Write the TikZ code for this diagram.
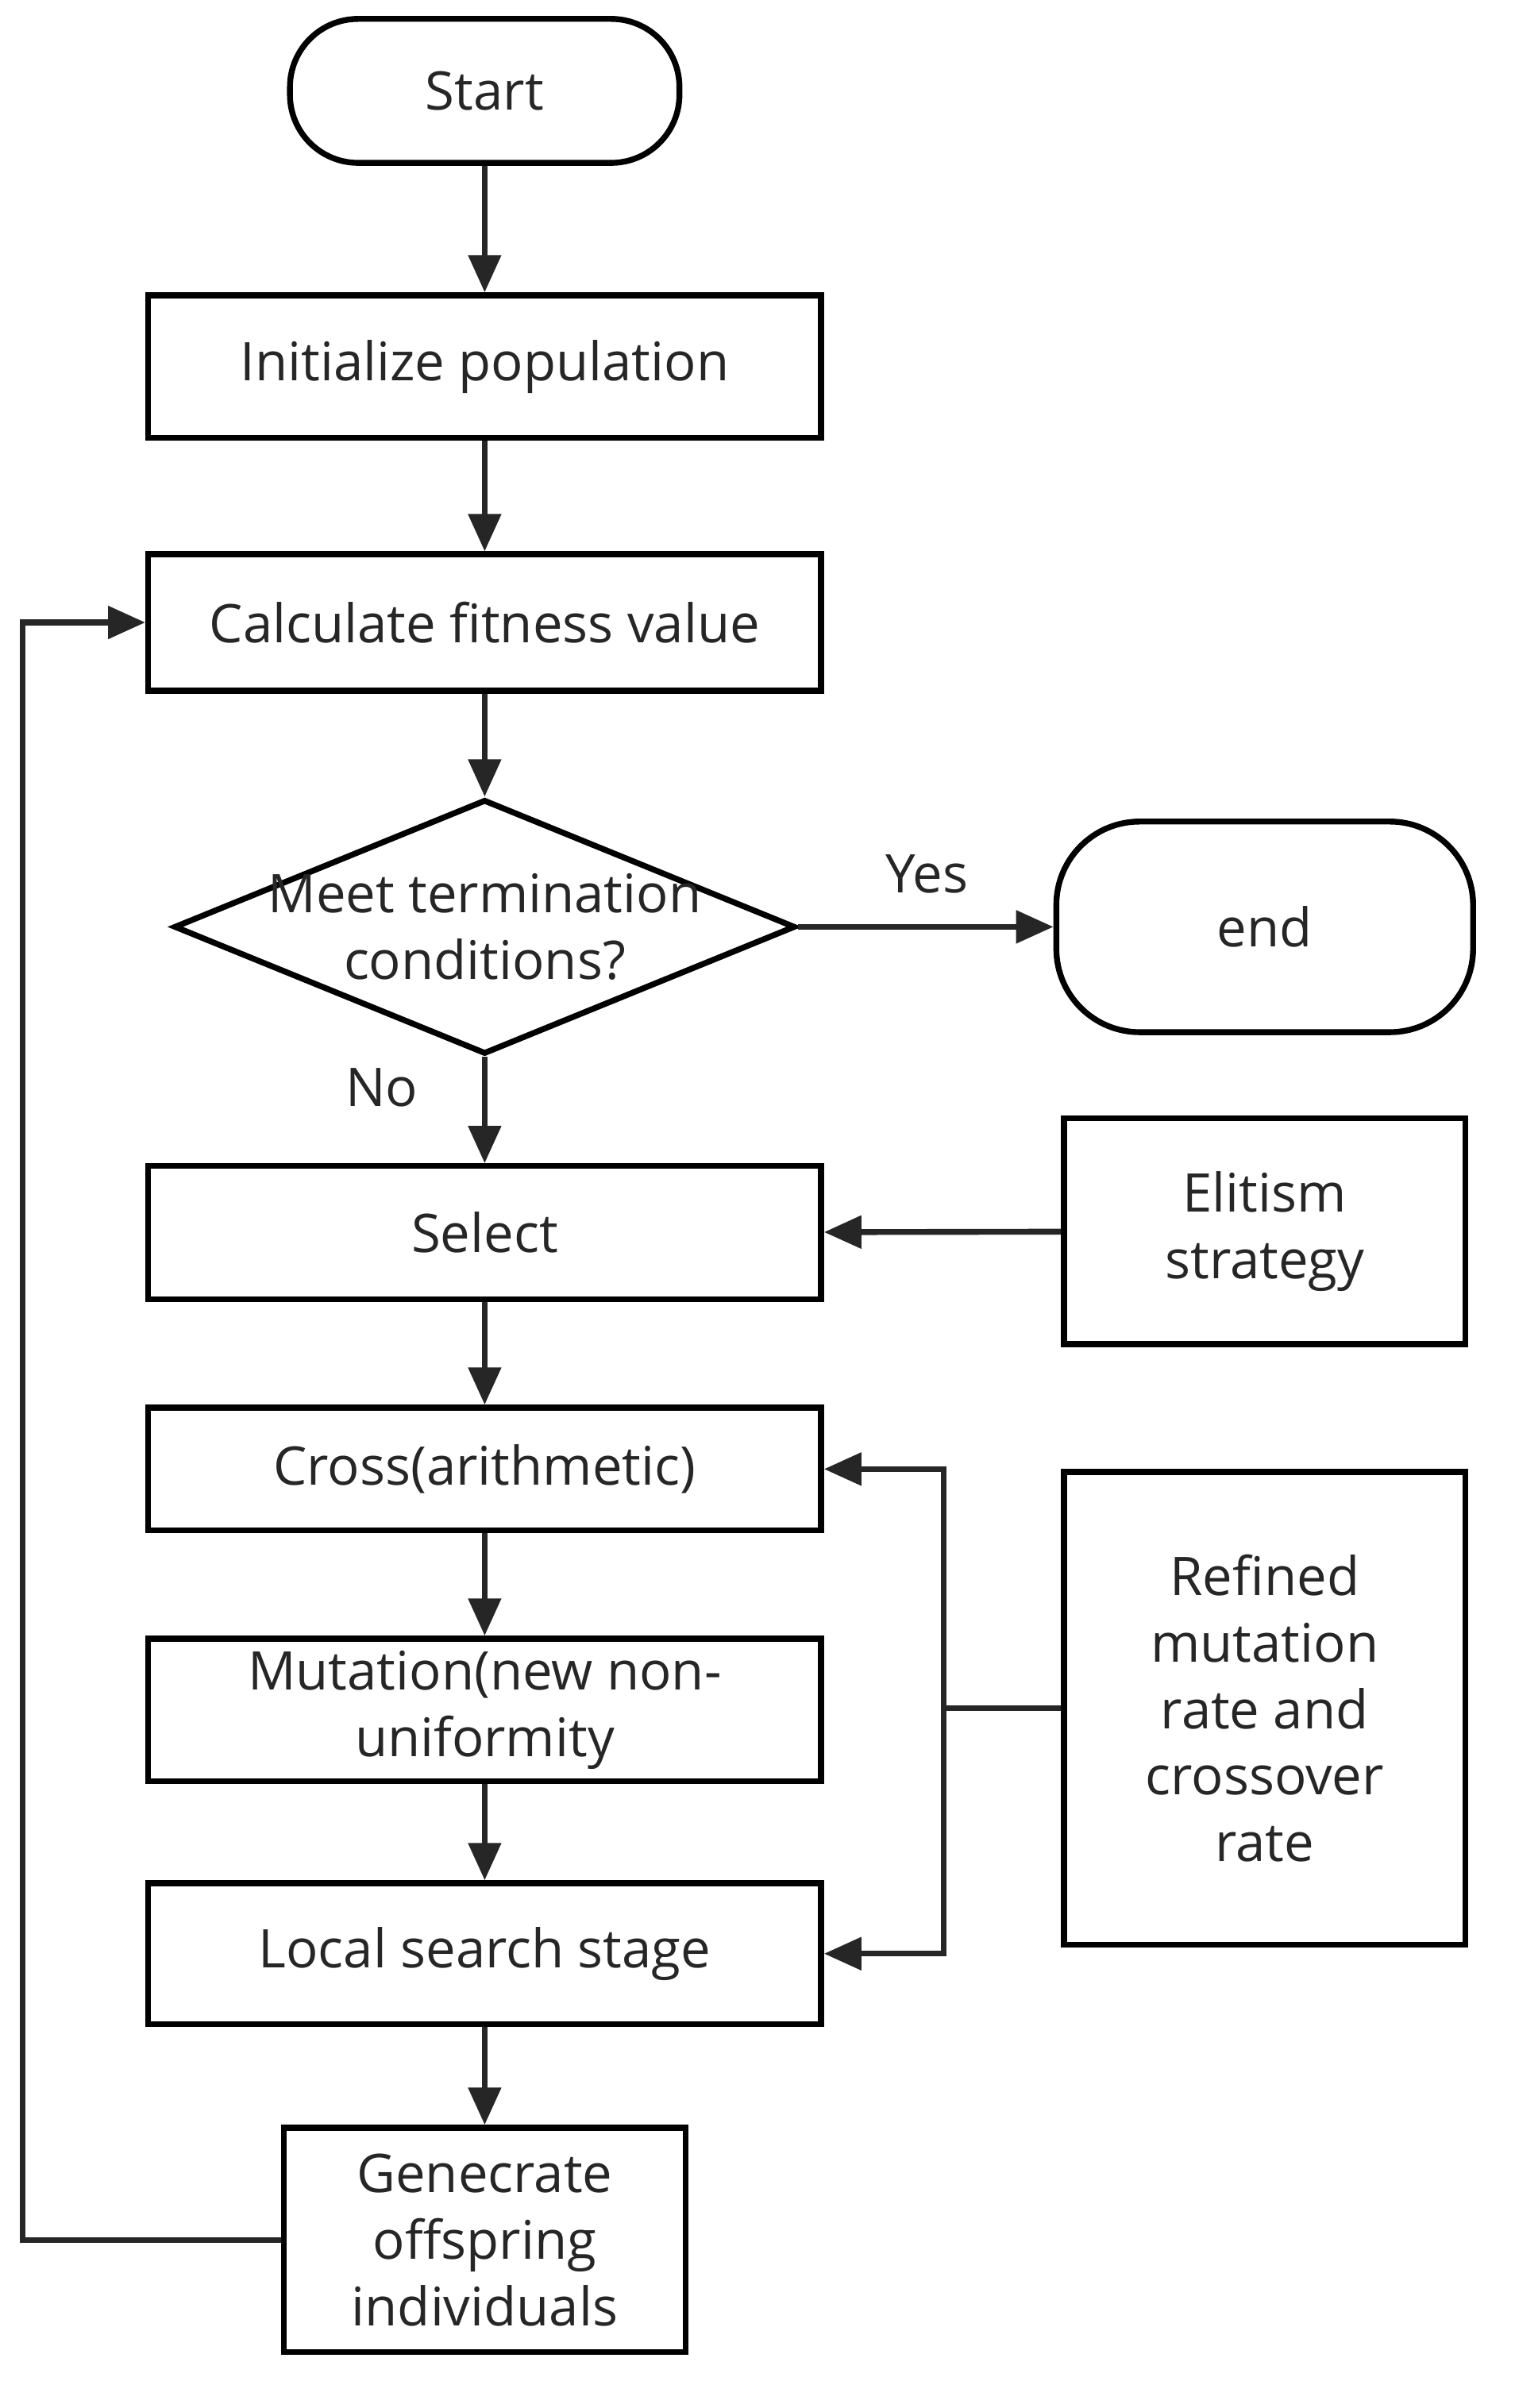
\documentclass[tikz,border=0pt]{standalone}
\usepackage{fontspec}
\setmainfont{Open Sans}
\usetikzlibrary{shapes.geometric,arrows.meta}
\begin{document}
\begin{tikzpicture}[x=0.01cm,y=-0.01cm,
  every node/.style={font=\fontsize{10pt}{12.5pt}\selectfont,text=black!85,align=center},
  box/.style={draw,line width=1.1pt,inner sep=0pt},
  term/.style={box,rounded corners=0.45cm},
  ln/.style={line width=1.1pt,draw=black!85},
  ar/.style={ln,-{Triangle[length=7pt,width=6pt]}}]
\useasboundingbox (0,0) rectangle (1000,1590);
\node[term,minimum width=2.57cm,minimum height=0.95cm] (start) at (320,60) {Start};
\node[box,minimum width=4.44cm,minimum height=0.94cm] (init) at (320,242) {Initialize population};
\node[box,minimum width=4.44cm,minimum height=0.9cm] (calc) at (320,411) {Calculate fitness value};
\node[box,diamond,aspect=2.44,minimum width=4.1cm,minimum height=1.68cm,inner sep=0pt] (dec) at (320,612) {};
\node at (320,612) {Meet termination\\conditions?};
\node[term,rounded corners=0.55cm,minimum width=2.75cm,minimum height=1.39cm] (end) at (835,612) {end};
\node at (612,577) {Yes};
\node at (252,718) {No};
\node[box,minimum width=4.44cm,minimum height=0.88cm] (sel) at (320,814) {Select};
\node[box,minimum width=2.65cm,minimum height=1.49cm] (eli) at (835,813) {Elitism\\strategy};
\node[box,minimum width=4.44cm,minimum height=0.81cm] (cross) at (320,970) {Cross(arithmetic)};
\node[box,minimum width=4.44cm,minimum height=0.94cm] (mut) at (320,1129) {Mutation(new non-\\uniformity};
\node[box,minimum width=4.44cm,minimum height=0.93cm] (loc) at (320,1290) {Local search stage};
\node[box,minimum width=2.65cm,minimum height=3.12cm] (ref) at (835,1128) {Refined\\mutation\\rate and\\crossover\\rate};
\node[box,minimum width=2.65cm,minimum height=1.48cm] (gen) at (320,1479) {Genecrate\\offspring\\individuals};
\coordinate (j) at (623,1128);
\coordinate (l1) at (15,1479);
\coordinate (l2) at (15,411);
\draw[ar] (start) -- (init);
\draw[ar] (init) -- (calc);
\draw[ar] (calc) -- (dec);
\draw[ar] (dec) -- (end);
\draw[ar] (dec) -- (sel);
\draw[ar] (eli) -- (sel);
\draw[ar] (sel) -- (cross);
\draw[ar] (cross) -- (mut);
\draw[ar] (mut) -- (loc);
\draw[ar] (loc) -- (gen);
\draw[ln] (ref.west) -- (j);
\draw[ar] (j) |- (cross.east);
\draw[ar] (j) |- (loc.east);
\draw[ar] (gen.west) -- (l1) -- (l2) -- (calc.west);
\end{tikzpicture}
\end{document}
